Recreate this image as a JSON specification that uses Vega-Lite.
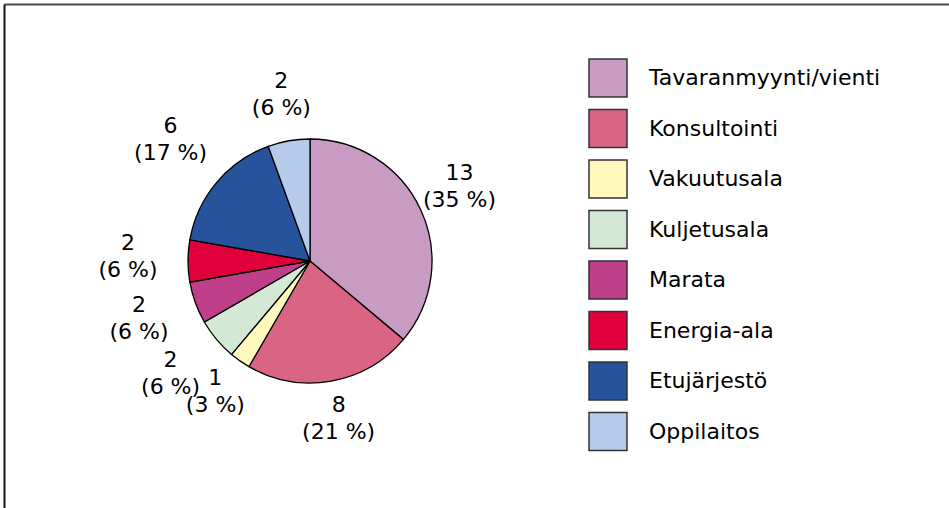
{
  "$schema": "https://vega.github.io/schema/vega-lite/v6.json",
  "width": 949,
  "height": 508,
  "autosize": {"type": "fit", "contains": "padding"},
  "padding": {"left": 4, "top": 4, "right": 0, "bottom": 0},
  "background": "white",
  "config": {
    "view": {"stroke": null},
    "font": "DejaVu Sans"
  },
  "data": {
    "values": [
      {"ala": "Tavaranmyynti/vienti", "n": 13, "ord": 1, "lbl": "13\n(35 %)"},
      {"ala": "Konsultointi", "n": 8, "ord": 2, "lbl": "8\n(21 %)"},
      {"ala": "Vakuutusala", "n": 1, "ord": 3, "lbl": "1\n(3 %)"},
      {"ala": "Kuljetusala", "n": 2, "ord": 4, "lbl": "2\n(6 %)"},
      {"ala": "Marata", "n": 2, "ord": 5, "lbl": "2\n(6 %)"},
      {"ala": "Energia-ala", "n": 2, "ord": 6, "lbl": "2\n(6 %)"},
      {"ala": "Etujärjestö", "n": 6, "ord": 7, "lbl": "6\n(17 %)"},
      {"ala": "Oppilaitos", "n": 2, "ord": 8, "lbl": "2\n(6 %)"}
    ]
  },
  "encoding": {
    "x": {
      "datum": 310,
      "type": "quantitative",
      "scale": {"domain": [4, 949], "nice": false, "zero": false},
      "axis": {"orient": "top", "title": null, "labels": false, "ticks": false, "grid": false, "domain": true, "domainColor": "#4a4a4a", "domainWidth": 2}
    },
    "y": {
      "datum": 261,
      "type": "quantitative",
      "scale": {"domain": [4, 508], "nice": false, "zero": false, "reverse": true},
      "axis": {"orient": "left", "title": null, "labels": false, "ticks": false, "grid": false, "domain": true, "domainColor": "#111111", "domainWidth": 2}
    },
    "theta": {"field": "n", "type": "quantitative", "stack": true},
    "order": {"field": "ord", "type": "quantitative"}
  },
  "layer": [
    {
      "mark": {"type": "arc", "outerRadius": 122, "stroke": "#000000", "strokeWidth": 1.3},
      "encoding": {
        "color": {
          "field": "ala",
          "type": "nominal",
          "scale": {
            "domain": ["Tavaranmyynti/vienti", "Konsultointi", "Vakuutusala", "Kuljetusala", "Marata", "Energia-ala", "Etujärjestö", "Oppilaitos"],
            "range": ["#C89BC3", "#D96483", "#FFF9BE", "#D4E8D6", "#BF3F8A", "#E0003C", "#27539D", "#B5CBE9"]
          },
          "legend": {
            "title": null,
            "orient": "none",
            "legendX": 584,
            "legendY": 54,
            "padding": 0,
            "symbolType": "square",
            "symbolSize": 1444,
            "symbolStrokeColor": "#333333",
            "symbolStrokeWidth": 1.5,
            "symbolOpacity": 1,
            "labelFont": "DejaVu Sans",
            "labelFontSize": 22,
            "labelColor": "#000000",
            "labelOffset": 21,
            "rowPadding": 6.5,
            "labelLimit": 400
          }
        }
      }
    },
    {
      "mark": {"type": "text", "radius": 165, "dy": -18, "fontSize": 22, "font": "DejaVu Sans", "lineBreak": "\n", "lineHeight": 27, "align": "center", "baseline": "middle", "color": "#000000"},
      "encoding": {
        "text": {
          "condition": {"test": "indexof(['Kuljetusala', 'Marata', 'Energia-ala', 'Etujärjestö'], datum.ala) < 0", "field": "lbl", "type": "nominal"},
          "value": ""
        }
      }
    },
    {
      "mark": {"type": "text", "radius": 182, "dy": -18, "fontSize": 22, "font": "DejaVu Sans", "lineBreak": "\n", "lineHeight": 27, "align": "center", "baseline": "middle", "color": "#000000"},
      "encoding": {
        "text": {
          "condition": {"test": "indexof(['Kuljetusala', 'Marata', 'Energia-ala', 'Etujärjestö'], datum.ala) >= 0", "field": "lbl", "type": "nominal"},
          "value": ""
        }
      }
    }
  ]
}
